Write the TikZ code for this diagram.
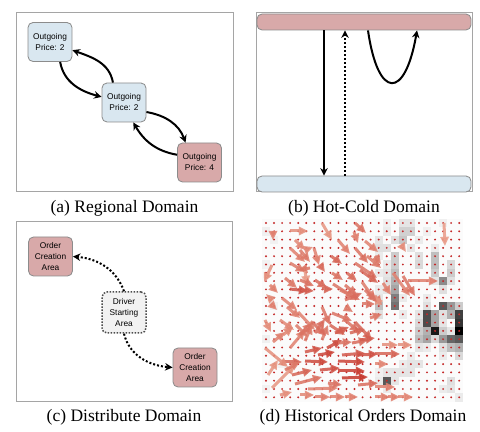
\documentclass[tikz,border=0pt]{standalone}
\usepackage{fontspec}
\setmainfont{Liberation Serif}
\newfontfamily\boxfont{Liberation Sans}
\usetikzlibrary{positioning}
\usetikzlibrary{arrows.meta}
\definecolor{coldblue}{RGB}{217,231,240}
\definecolor{hotred}{RGB}{216,169,169}
\definecolor{framegray}{RGB}{165,165,165}
\definecolor{edgegray}{RGB}{140,140,140}
\definecolor{qlight}{RGB}{242,182,160}
\definecolor{qdark}{RGB}{196,48,38}
\definecolor{qdot}{RGB}{196,40,40}
\tikzset{panel frame/.style={draw=framegray, line width=0.6pt},
        area box/.style={
          draw=edgegray, line width=0.5pt, rounded corners=3pt,
          minimum width=26.4pt, minimum height=23.4pt, inner sep=0pt,
          align=center, text=black,
          font=\boxfont\fontsize{5}{6.6}\selectfont % small sans text as in the boxes
          },
        cold box/.style={area box, fill=coldblue},
        hot box/.style={area box, fill=hotred},
        driver box/.style={area box, fill=black!5, draw=black!70, line width=0.9pt, dash pattern=on 0.9pt off 0.9pt},
        bar/.style={draw=edgegray, line width=0.5pt, rounded corners=3pt, minimum width=128.4pt, minimum height=9.6pt, inner sep=0pt},
        flow/.style={-{Stealth[length=4.5pt,width=4.5pt]}, line width=1.2pt},
        dot flow/.style={flow, dash pattern=on 1.2pt off 1.2pt},
        caption/.style={font=\fontsize{10.5}{12}\selectfont, inner sep=0pt},
        quiver/.style={-{Triangle[length=5.5pt,width=5pt]}, line width=1.8pt, opacity=0.85},
}
\begin{document}
\begin{tikzpicture}[x=0.6pt, y=-0.6pt]
      \useasboundingbox (0,0) rectangle (480,432);

      % REGIONAL DOMAIN
      \draw[panel frame] (16,13) rectangle (233,192);
      \node[cold box] (region1) at (50,42) {Outgoing\\Price: 2};
      \node[cold box] (region2) at (124,102.5) {Outgoing\\Price: 2};
      \node[hot box] (region3) at (199.5,162.5) {Outgoing\\Price: 4};
      \draw[flow] (region1.-63) to[out=-80, in=165] (region2.166);
      \draw[flow] (region2.119) to[out=100, in=-20] (region1.-20);
      \draw[flow] (region2.-23) to[out=-10, in=110] (region3.125);
      \draw[flow] (region3.161) to[out=170, in=-60] (region2.-65);
      \coordinate (abot) at (124.5,192);
      \node[caption, below=5pt of abot] (capa) {(a) Regional Domain};

      % HOT-COLD DOMAIN
      \draw[panel frame] (256,13) rectangle (472,192);
      \node[bar, fill=hotred] (hot) at (364,22) {};
      \node[bar, fill=coldblue] (cold) at (364,184) {};
      \coordinate (downx) at (324,0);
      \coordinate (upx) at (345,0);
      \coordinate (loopa) at (368,0);
      \coordinate (loopb) at (417,0);
      \draw[flow] (hot.south -| downx) -- (cold.north -| downx);
      \draw[dot flow] (cold.north -| upx) -- (hot.south -| upx);
      \draw[flow] (hot.south -| loopa) .. controls (378,100) and (405,100) .. (hot.south -| loopb);
      \coordinate (bbot) at (364,192);
      \node[caption, below=5pt of bbot] (capb) {(b) Hot-Cold Domain};

      % DISTRIBUTE DOMAIN
      \draw[panel frame] (16,222) rectangle (232,402);
      \node[hot box] (order1) at (50.5,256.5) {Order\\Creation\\Area};
      \node[driver box, minimum height=24.6pt] (driver) at (124,312.5) {Driver\\Starting\\Area};
      \node[hot box] (order2) at (195,367.5) {Order\\Creation\\Area};
      \draw[dot flow] (driver.north) to[out=110, in=-5] (order1.east);
      \draw[dot flow] (driver.south) to[out=-76, in=175] (order2.west);
      \coordinate (cbot) at (124,402);
      \node[caption, below=4pt of cbot] (capc) {(c) Distribute Domain};

      % HISTORICAL ORDERS DOMAIN
      % heat cells
      \fill[black!1.5] (262,219) rectangle (463.25,401.6);
      \foreach \i/\j/\g in {0/1/6, 1/2/5, 0/5/5, 1/10/5, 0/14/6, 2/17/5, 0/20/5,
          17/0/10, 18/0/10, 15/0/6, 22/0/6,
          17/1/18, 18/1/18, 15/1/8, 20/1/6,
          14/2/10, 16/2/12, 17/2/22, 19/2/8,
          14/3/12, 15/3/12, 18/3/10, 21/3/8,
          14/4/8, 16/4/20, 19/4/12, 21/4/25,
          15/5/8, 16/5/20, 19/5/15, 21/5/25, 23/5/15,
          14/6/8, 15/6/10, 16/6/25, 21/6/20, 23/6/20,
          15/7/12, 16/7/30, 21/7/10, 22/7/45, 23/7/12,
          14/8/8, 15/8/10, 16/8/35, 22/8/12,
          14/9/10, 16/9/50, 17/9/8, 20/9/8,
          14/10/25, 16/10/55, 20/10/12, 22/10/65, 23/10/40, 24/10/20,
          14/11/12, 17/11/8, 19/11/10, 20/11/70, 21/11/35, 22/11/12, 23/11/30, 24/11/75,
          19/12/15, 20/12/70, 21/12/35, 22/12/10, 24/12/80,
          19/13/20, 20/13/30, 21/13/90, 22/13/20, 23/13/10, 24/13/100,
          19/14/25, 20/14/35, 21/14/15, 22/14/40, 23/14/60, 24/14/65,
          19/15/10, 20/15/8, 22/15/12, 23/15/25, 24/15/30,
          18/16/8, 22/16/8, 24/16/15,
          17/17/8, 18/17/10, 19/17/10,
          14/18/6, 15/18/10, 16/18/10, 17/18/10, 18/18/10,
          14/19/8, 15/19/65, 16/19/10, 23/19/12,
          15/20/8, 22/20/8, 23/20/10,
          24/21/8}
        \fill[black!\g] ({262+8.05*\i},{219+8.3*\j}) rectangle ++(8.05,8.3);
      % grid points
      \foreach \i in {0,...,24}
        \foreach \j in {0,...,21}
          \fill[qdot] ({266+8.05*\i},{223+8.3*\j}) circle (0.65pt);
      % flow arrows
      \foreach \x/\y/\u/\v/\s in {290/231/18/0/30, 322/223/10/17/25, 355/223/11/10/50, 354/232/4/11/40,
          273/234/0/6/40, 290/248/15/14/40, 300/250/10/12/45, 305/250/8/-3/35, 314/248/5/17/40,
          331/256/11/8/60, 355/248/13/15/50, 365/241/13/11/40, 290/263/15/9/45, 310/268/-12/2/50,
          305/271/2/14/20, 320/265/5/7/55, 272/265/-8/17/30, 332/273/11/7/50, 347/273/10/8/55,
          355/263/22/15/50, 360/270/18/13/60, 290/289/18/2/75, 302/290/12/1/65, 322/289/11/0/60,
          333/284/22/14/50, 340/290/20/10/45, 345/300/17/-7/55, 362/282/13/18/45, 282/298/15/12/40,
          272/300/-6/-6/35, 362/304/13/0/50,
          272/305/5/5/40, 287/307/13/11/40, 298/312/17/18/40, 322/307/8/18/50, 332/313/20/8/50,
          345/307/8/5/45, 355/322/17/18/60, 273/342/12/-10/40, 290/348/15/-18/40, 305/341/7/-16/45,
          322/340/6/-15/45, 327/348/15/-8/80, 305/352/17/-4/70, 318/355/17/-3/85, 338/343/14/-1/50,
          352/343/16/-3/55, 342/355/23/-2/70, 358/355/20/-1/75, 282/362/20/0/60, 265/348/23/19/30,
          272/388/23/-23/25, 305/361/23/1/80, 338/361/27/1/85, 338/371/27/0/90, 342/378/26/-1/95,
          292/375/20/-5/60, 295/384/27/-7/50, 308/389/30/-1/40, 315/397/15/0/40, 330/397/15/0/40,
          345/397/13/0/40, 358/385/20/-2/55, 328/383/14/2/50,
          382/345/16/0/30, 398/345/14/0/30, 375/354/25/0/60, 375/364/13/0/35, 375/397/15/0/40,
          388/397/12/0/40, 398/397/15/0/35, 375/387/20/0/40, 393/273/17/23/40, 403/276/12/20/50,
          408/281/30/0/40, 444/223/1/23/20, 402/246/4/6/30, 375/296/7/9/45, 375/256/6/8/45,
          367/256/14/12/45, 383/283/8/12/40, 380/305/-5/-10/25,
          280/320/14/10/35, 296/325/12/12/45, 312/322/14/14/55, 330/325/15/10/60, 345/320/14/12/50,
          283/335/10/-8/35, 300/335/12/-12/50, 315/333/10/-14/55, 335/333/14/-6/65, 350/333/15/-4/60,
          265/320/6/12/30, 268/375/10/-15/25, 285/370/15/-8/45, 320/370/20/-2/75, 300/395/14/0/35,
          280/395/12/-3/30, 270/285/8/8/40, 285/278/12/10/45, 300/280/14/6/50, 315/280/12/8/55,
          345/285/12/10/50, 295/240/10/10/35, 338/240/12/14/40, 365/290/12/12/50, 360/340/15/-2/65,
          370/318/12/-4/45}
        \draw[quiver, color=qdark!\s!qlight] (\x,\y) -- ++(\u,\v);
      \coordinate (dbot) at (363,402);
      \node[caption, below=4pt of dbot] (capd) {(d) Historical Orders Domain};

\end{tikzpicture}
\end{document}
